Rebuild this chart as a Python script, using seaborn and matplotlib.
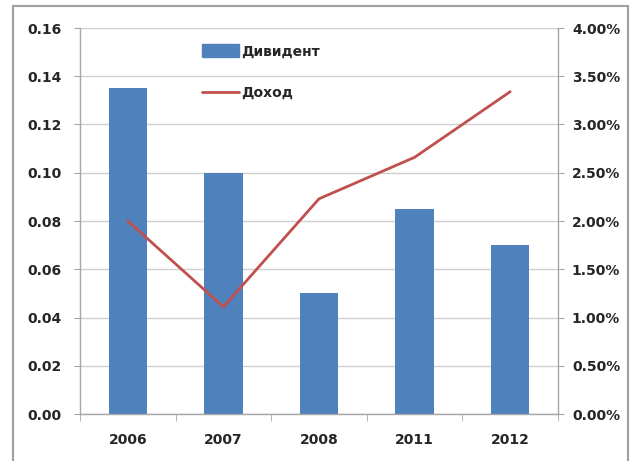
import matplotlib
matplotlib.use("Agg")
import matplotlib.pyplot as plt
import seaborn as sns
import numpy as np
import pandas as pd
from matplotlib.patches import Rectangle
from matplotlib.lines import Line2D
from matplotlib.ticker import FuncFormatter, MultipleLocator

years = ["2006", "2007", "2008", "2011", "2012"]
dividend = [0.135, 0.10, 0.05, 0.085, 0.07]
income_pct = [2.00, 1.11, 2.23, 2.66, 3.34]

sns.set_style("white")
plt.rcParams['font.family'] = ['DejaVu Sans']

df = pd.DataFrame({"year": years, "div": dividend, "inc": income_pct})

fig = plt.figure(figsize=(6.37, 4.61), dpi=100)
ax = fig.add_axes([80/637, 1-414/461, 478/637, 386/461])

bar_color = "#4F81BD"
line_color = "#C0504D"
grid_color = "#D0D0D0"

sns.barplot(data=df, x="year", y="div", ax=ax, color=bar_color, width=0.4,
            saturation=1, order=years, zorder=2, linewidth=0)
ax.set_ylim(0, 0.16)
ax.set_xlim(-0.5, 4.5)
ax.yaxis.set_major_locator(MultipleLocator(0.02))
ax.yaxis.set_major_formatter(FuncFormatter(lambda v, p: f"{v:.2f}"))
ax.grid(axis="y", color=grid_color, linewidth=1, zorder=0)
ax.set_axisbelow(True)
ax.set_xlabel("")
ax.set_ylabel("")

ax2 = ax.twinx()
sns.lineplot(data=df, x="year", y="inc", ax=ax2, color=line_color, linewidth=2, sort=False)
ax2.set_ylim(0, 4.0)
ax2.yaxis.set_major_locator(MultipleLocator(0.5))
ax2.yaxis.set_major_formatter(FuncFormatter(lambda v, p: f"{v:.2f}%"))
ax2.set_ylabel("")
ax2.set_xlim(-0.5, 4.5)

for a in (ax, ax2):
    a.spines["top"].set_visible(False)
    for s in ["left", "right", "bottom"]:
        a.spines[s].set_color("#A6A6A6")
        a.spines[s].set_linewidth(1)
ax.spines["right"].set_visible(False)
ax2.spines["left"].set_visible(False)
ax2.spines["bottom"].set_visible(False)

ax.tick_params(axis="y", left=True, length=4, color="#A6A6A6", pad=9, labelsize=10)
ax2.tick_params(axis="y", right=True, length=4, color="#A6A6A6", pad=6, labelsize=10)
ax.tick_params(axis="x", bottom=False, pad=10, labelsize=10)
ax.set_xticks(np.arange(-0.5, 5, 1.0), minor=True)
ax.tick_params(axis="x", which="minor", bottom=True, length=5, color="#A6A6A6")
for lab in ax.get_yticklabels() + ax2.get_yticklabels() + ax.get_xticklabels():
    lab.set_fontweight("bold")
    lab.set_color("#262626")

handles = [Rectangle((0, 0), 1, 1, color=bar_color),
           Line2D([0], [0], color=line_color, linewidth=2)]
leg = ax.legend(handles, ["Дивидент", "Доход"], loc="upper left",
                bbox_to_anchor=(0.23, 0.99), frameon=False,
                handlelength=2.6, handleheight=1.0, handletextpad=0.2,
                labelspacing=2.0, prop=dict(weight="bold", size=10))
if ax2.get_legend() is not None:
    ax2.get_legend().remove()

fig.patches.append(Rectangle((13/637, -0.05), (628-13)/637, 1.05 - 6/461,
                             transform=fig.transFigure, fill=False,
                             edgecolor="#A0A0A0", linewidth=1.5))

fig.savefig("out.png", dpi=100)
